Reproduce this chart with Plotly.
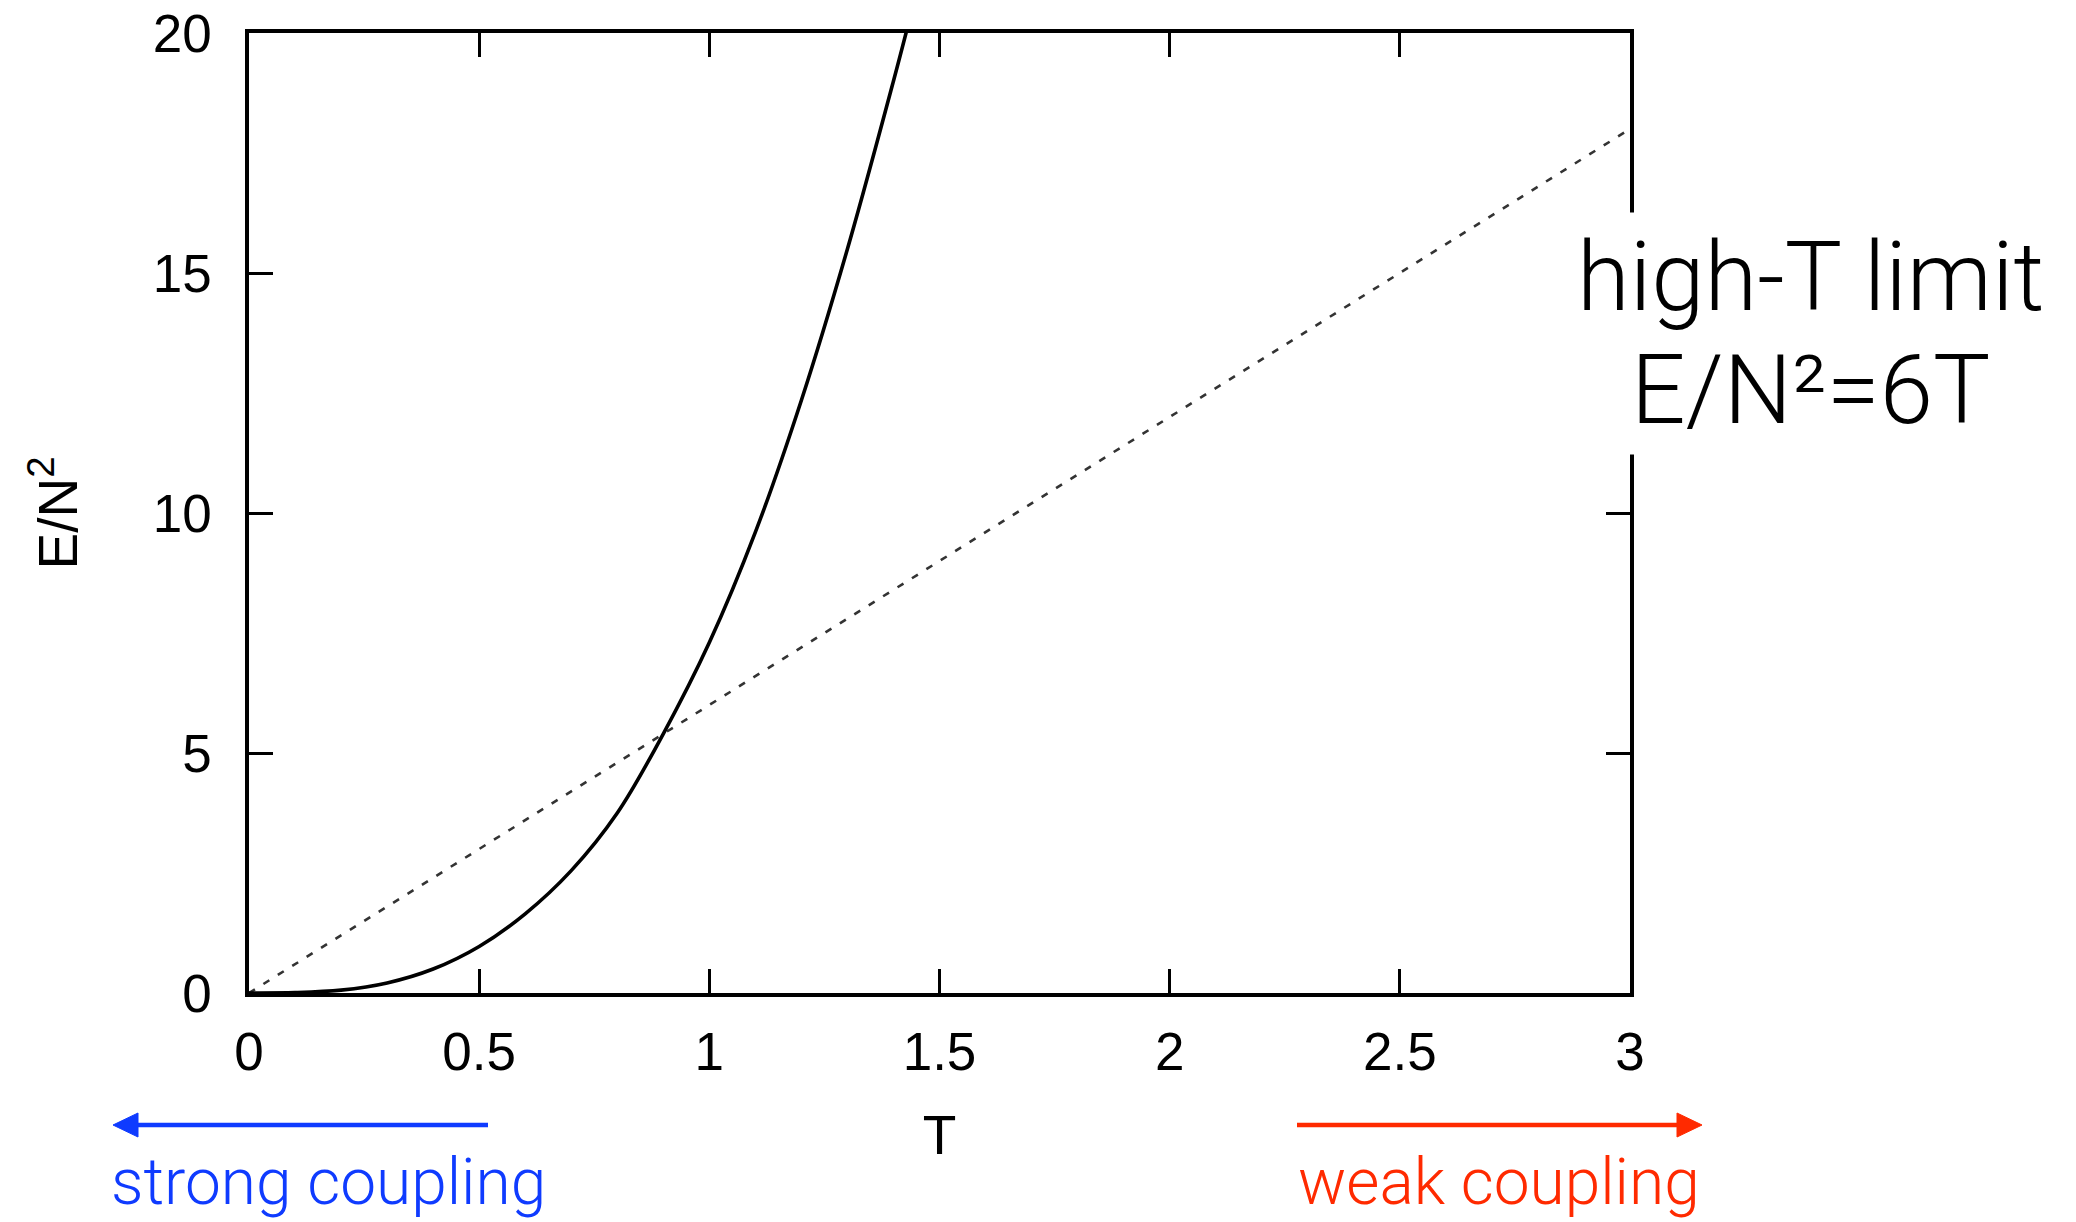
import plotly.graph_objects as go

# Energy curve
T_curve = [0.0, 0.1, 0.2, 0.3, 0.4, 0.5, 0.6, 0.7, 0.8, 0.9, 1.0, 1.1, 1.2, 1.3, 1.4, 1.43]
E_curve = [0.0, 0.008, 0.06, 0.21, 0.5, 0.97, 1.65, 2.55, 3.75, 5.4, 7.3, 9.6, 12.35, 15.5, 19.0, 20.1]

# High-T limit line E/N^2 = 6T
T_limit = [0.0, 3.0]
E_limit = [0.0, 18.0]

x_ticks = [0, 0.5, 1, 1.5, 2, 2.5, 3]
x_tick_text = ["0", "0.5", "1", "1.5", "2", "2.5", "3"]
y_ticks = [0, 5, 10, 15, 20]
y_tick_text = ["0", "5", "10", "15", "20"]

W, H = 2076, 1222
L, R, TOP, B = 249, 446, 33, 229
PW = W - L - R
PH = H - TOP - B


def px(xp):
    return (xp - L) / PW


def py(yp):
    return (H - B - yp) / PH


fig = go.Figure()
fig.add_trace(go.Scatter(x=T_limit, y=E_limit, mode="lines",
                         line=dict(color="#333333", width=2.6, dash="7px,10px"),
                         showlegend=False, hoverinfo="skip"))
fig.add_trace(go.Scatter(x=T_curve, y=E_curve, mode="lines",
                         line=dict(color="black", width=3.6, shape="spline", smoothing=1.0),
                         showlegend=False, hoverinfo="skip"))

sans = "Liberation Sans, Arial, Helvetica, sans-serif"
tick_font = dict(family=sans, size=53, color="black")
light_font = "Roboto, 'Open Sans', sans-serif"

fig.update_layout(
    width=W, height=H,
    margin=dict(l=L, r=R, t=TOP, b=B, autoexpand=False),
    plot_bgcolor="white", paper_bgcolor="white",
    xaxis=dict(range=[0, 3], tickvals=x_ticks, ticktext=x_tick_text,
               ticks="inside", ticklen=24, tickwidth=3, tickcolor="black",
               showline=True, linewidth=3.5, linecolor="black", mirror="ticks",
               showgrid=False, zeroline=False, tickfont=tick_font,
               ticklabelstandoff=10, automargin=False,
               title=dict(text="T", font=dict(family=sans, size=55, color="black"),
                          standoff=36)),
    yaxis=dict(range=[0, 20], tickvals=y_ticks, ticktext=y_tick_text,
               ticks="inside", ticklen=24, tickwidth=3, tickcolor="black",
               showline=True, linewidth=3.5, linecolor="black", mirror="ticks",
               showgrid=False, zeroline=False, tickfont=tick_font,
               ticklabelstandoff=23, automargin=False,
               title=dict(text="E/N<sup>2</sup>", font=dict(family=sans, size=55, color="black"),
                          standoff=58)),
)

BLUE = "#0F3BFF"
RED = "#FF2A00"
ARROW_Y = 1125

big_font = dict(family=light_font, size=96, color="black", weight=300)
annotations = [
    dict(x=px(1810), y=py(390), xref="paper", yref="paper", xanchor="center", yanchor="middle",
         text="E/N²=6T", showarrow=False, align="center",
         font=big_font, bgcolor="white", borderpad=8),
    dict(x=px(1810), y=py(277), xref="paper", yref="paper", xanchor="center", yanchor="middle",
         text="high-T limit", showarrow=False, align="center",
         font=big_font, bgcolor="white", borderpad=8),
    dict(x=px(328), y=py(1182), xref="paper", yref="paper", xanchor="center", yanchor="middle",
         text="strong coupling", showarrow=False,
         font=dict(family=light_font, size=64, color=BLUE, weight=300)),
    dict(x=px(1499), y=py(1182), xref="paper", yref="paper", xanchor="center", yanchor="middle",
         text="weak coupling", showarrow=False,
         font=dict(family=light_font, size=64, color=RED, weight=300)),
]

shapes = [
    # blue arrow pointing left
    dict(type="line", xref="paper", yref="paper",
         x0=px(488), y0=py(ARROW_Y), x1=px(132), y1=py(ARROW_Y),
         line=dict(color=BLUE, width=4.5)),
    dict(type="path", xref="paper", yref="paper",
         path=f"M {px(113)},{py(ARROW_Y)} L {px(138)},{py(ARROW_Y - 12)} L {px(138)},{py(ARROW_Y + 12)} Z",
         fillcolor=BLUE, line=dict(color=BLUE, width=1)),
    # red arrow pointing right
    dict(type="line", xref="paper", yref="paper",
         x0=px(1297), y0=py(ARROW_Y), x1=px(1682), y1=py(ARROW_Y),
         line=dict(color=RED, width=4.5)),
    dict(type="path", xref="paper", yref="paper",
         path=f"M {px(1702)},{py(ARROW_Y)} L {px(1677)},{py(ARROW_Y - 12)} L {px(1677)},{py(ARROW_Y + 12)} Z",
         fillcolor=RED, line=dict(color=RED, width=1)),
]

fig.update_layout(annotations=annotations, shapes=shapes)

fig.write_html("out.html")
